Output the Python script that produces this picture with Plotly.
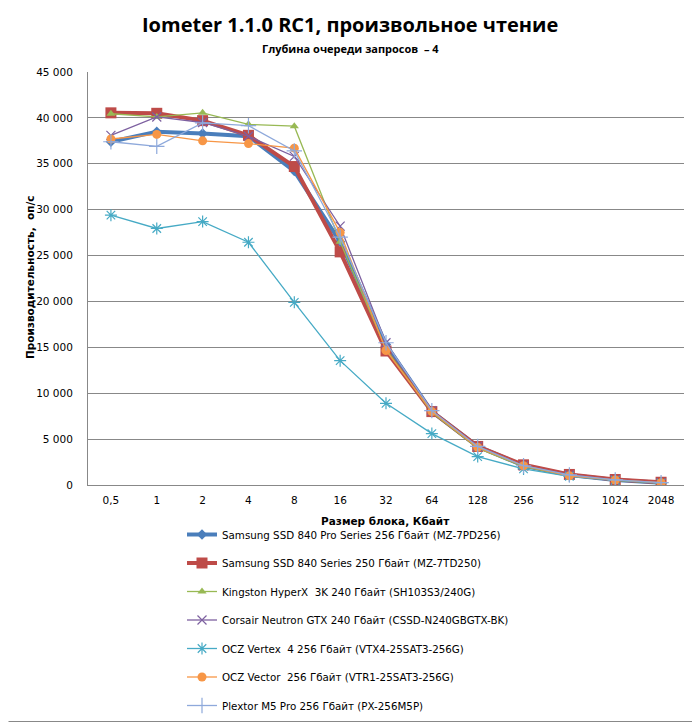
import plotly.graph_objects as go

categories = ["0,5", "1", "2", "4", "8", "16", "32", "64", "128", "256", "512", "1024", "2048"]

series_names = [
    "Samsung SSD 840 Pro Series 256 Гбайт (MZ-7PD256)",
    "Samsung SSD 840 Series 250 Гбайт (MZ-7TD250)",
    "Kingston HyperX  3K 240 Гбайт (SH103S3/240G)",
    "Corsair Neutron GTX 240 Гбайт (CSSD-N240GBGTX-BK)",
    "OCZ Vertex  4 256 Гбайт (VTX4-25SAT3-256G)",
    "OCZ Vector  256 Гбайт (VTR1-25SAT3-256G)",
    "Plextor M5 Pro 256 Гбайт (PX-256M5P)",
]

samsung_pro = [37400, 38500, 38300, 38000, 34200, 26500, 15300, 8000, 4200, 2100, 1100, 550, 250]
samsung_840 = [40550, 40500, 39700, 38100, 34700, 25400, 14600, 8000, 4200, 2200, 1150, 600, 300]
kingston = [40450, 40100, 40550, 39300, 39100, 26500, 14800, 7900, 4000, 2000, 1000, 500, 200]
corsair = [38100, 40100, 39500, 38000, 35800, 28200, 15500, 8100, 4200, 2100, 1100, 550, 250]
vertex4 = [29400, 27950, 28700, 26450, 19900, 13550, 8900, 5600, 3100, 1750, 950, 500, 200]
vector = [37700, 38200, 37500, 37200, 36700, 27500, 14650, 8000, 4100, 2100, 1000, 550, 250]
plextor = [37400, 36900, 39450, 39150, 36400, 27000, 15500, 8100, 4200, 2100, 1100, 550, 250]

values = [samsung_pro, samsung_840, kingston, corsair, vertex4, vector, plextor]
colors = ["#4A7EBB", "#BE4B48", "#98B954", "#7D60A0", "#46AAC5", "#F79646", "#8EA9DB"]
widths = [4, 4, 1.3, 1.3, 1.3, 1.3, 1.3]
symbols = ["diamond", "square", "triangle-up", "x-thin", "asterisk", "circle", "cross-thin"]
sizes = [8, 11, 8, 9, 10, 9, 11]

fig = go.Figure()
for i, (name, vals) in enumerate(zip(series_names, values)):
    thin = symbols[i] in ("x-thin", "asterisk", "cross-thin")
    fig.add_trace(go.Scatter(
        x=categories, y=vals, name=name, mode="lines+markers",
        legendgroup=f"g{i}",
        line=dict(color=colors[i], width=widths[i]),
        marker=dict(symbol=symbols[i], size=sizes[i], color=colors[i],
                    line=dict(color=colors[i], width=1.2 if thin else 0)),
    ))

# page body adds an 8px offset; all layout pixels below are page pixels minus OFF
OFF = 8
W, H = 700 - OFF, 722 - OFF
L, T = 88 - OFF, 72 - OFF
R = W - (684 - OFF)
B = H - (485 - OFF)
pw, ph = W - L - R, H - T - B


def px_x(x):
    return (x - OFF - L) / pw


def px_y(y):
    return (H - B - (y - OFF)) / ph


tick_font = dict(family="DejaVu Sans, Tahoma, sans-serif", size=10.5, color="#000000")
title_font_family = "Liberation Sans Narrow, Open Sans, sans-serif"

fig.update_layout(
    width=W, height=H,
    margin=dict(l=L, r=R, t=T, b=B, autoexpand=False),
    paper_bgcolor="white", plot_bgcolor="white",
    separators=", ",
    showlegend=True,
    font=dict(family="DejaVu Sans, Tahoma, sans-serif", size=11, color="#000000"),
    legend=dict(
        xref="container", yref="container",
        x=(182 - OFF) / W, xanchor="left",
        y=1 - (520 - OFF) / H, yanchor="top",
        orientation="v", tracegroupgap=9.5,
        font=dict(family="DejaVu Sans, Tahoma, sans-serif", size=10.3, color="#000000"),
        bgcolor="rgba(0,0,0,0)",
    ),
    xaxis=dict(
        type="category", showgrid=False, showline=True, linecolor="#888888", linewidth=1,
        ticks="", tickfont=tick_font, automargin=False, ticklabelstandoff=5,
        range=[-0.5, len(categories) - 0.5],
    ),
    yaxis=dict(
        range=[0, 45000], dtick=5000, tickformat=",d",
        showgrid=True, gridcolor="#888888", gridwidth=1,
        showline=True, linecolor="#888888", linewidth=1, ticks="",
        tickfont=tick_font, automargin=False, ticklabelstandoff=12,
        zeroline=False,
    ),
    annotations=[
        dict(text="<b>Iometer 1.1.0 RC1, произвольное чтение</b>", xref="paper", yref="paper",
             x=px_x(350), y=px_y(25), xanchor="center", yanchor="middle", showarrow=False,
             font=dict(family=title_font_family, size=20, color="#000000")),
        dict(text="<b>Глубина очереди запросов  – 4</b>", xref="paper", yref="paper",
             x=px_x(350), y=px_y(48), xanchor="center", yanchor="middle", showarrow=False,
             font=dict(family=title_font_family, size=11, color="#000000")),
        dict(text="<b>Размер блока, Кбайт</b>", xref="paper", yref="paper",
             x=px_x(385), y=px_y(521), xanchor="center", yanchor="middle", showarrow=False,
             font=dict(family="DejaVu Sans, sans-serif", size=10.5, color="#000000")),
        dict(text="<b>Производительность,  оп/с</b>", xref="paper", yref="paper",
             x=px_x(30), y=px_y(278), xanchor="center", yanchor="middle", showarrow=False,
             textangle=-90,
             font=dict(family="DejaVu Sans, sans-serif", size=10.5, color="#000000")),
    ],
    shapes=[
        dict(type="line", xref="paper", yref="paper",
             x0=px_x(699.5), x1=px_x(699.5), y0=px_y(721.5), y1=px_y(8.5),
             line=dict(color="#888888", width=1)),
        dict(type="line", xref="paper", yref="paper",
             x0=px_x(8.5), x1=px_x(699.5), y0=px_y(721.5), y1=px_y(721.5),
             line=dict(color="#888888", width=1)),
    ],
)

fig.write_html("out.html")
